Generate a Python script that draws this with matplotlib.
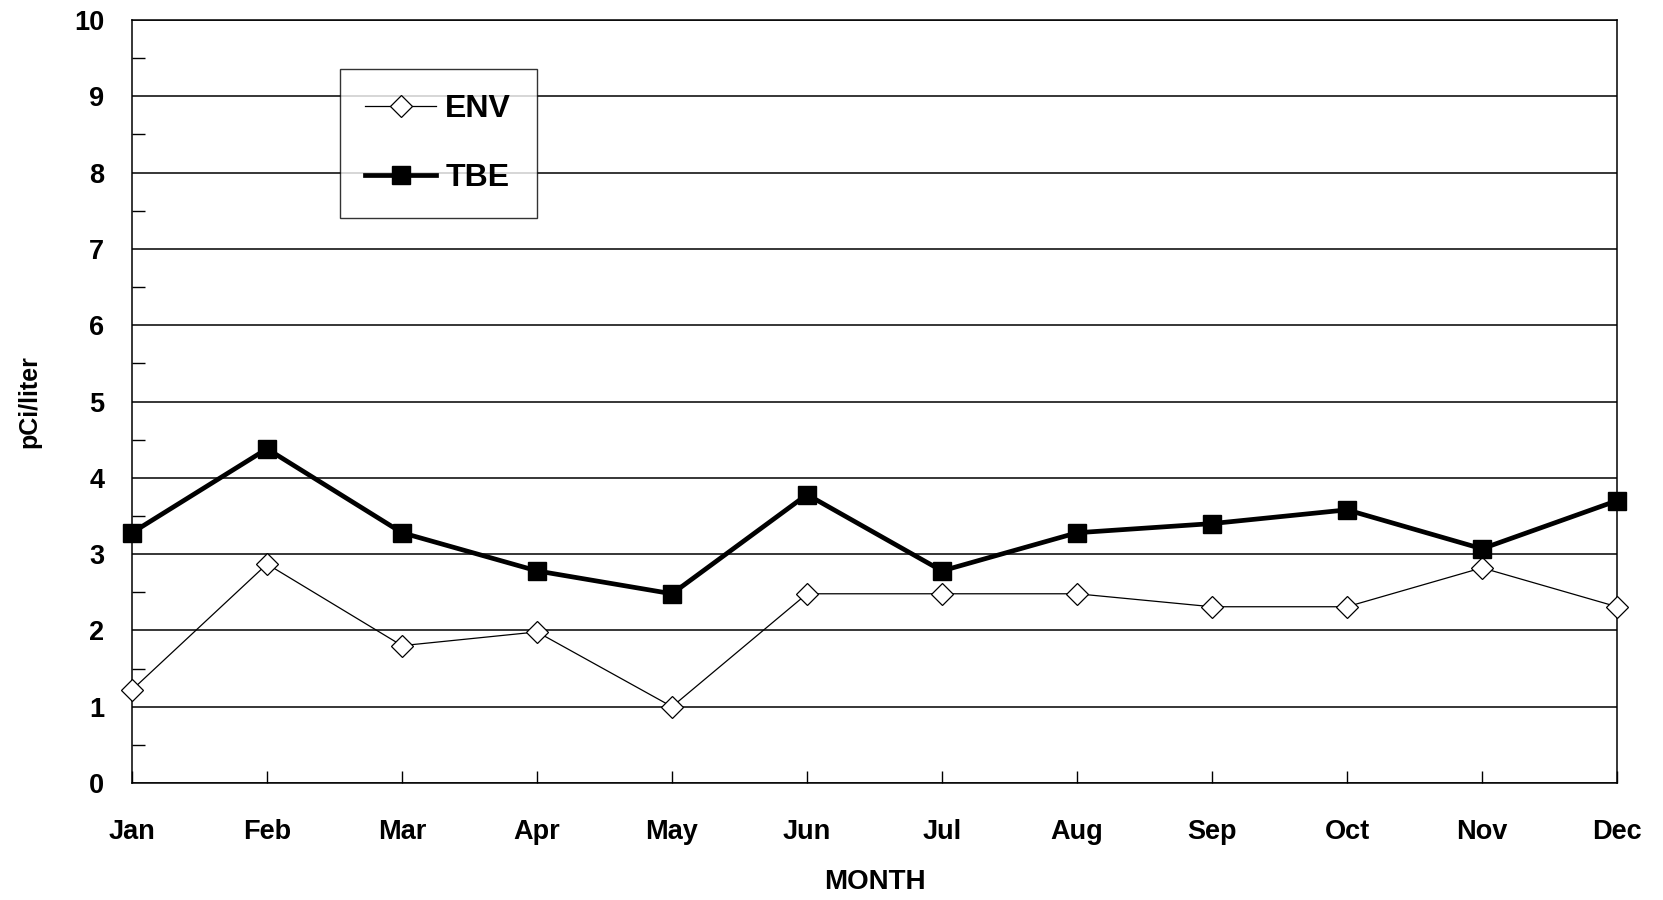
import matplotlib
matplotlib.use("Agg")
import matplotlib.pyplot as plt
from matplotlib.ticker import MultipleLocator

months = ["Jan", "Feb", "Mar", "Apr", "May", "Jun", "Jul", "Aug", "Sep", "Oct", "Nov", "Dec"]
env = [1.22, 2.87, 1.8, 1.98, 1.0, 2.48, 2.48, 2.48, 2.31, 2.31, 2.82, 2.31]
tbe = [3.28, 4.38, 3.28, 2.78, 2.48, 3.78, 2.78, 3.28, 3.4, 3.58, 3.07, 3.7]
yticks = list(range(0, 11))

plt.rcParams['font.family'] = ['Liberation Sans', 'DejaVu Sans']

fig = plt.figure(figsize=(16.63, 9.0), dpi=100)
L, R, T, B = 132, 1617, 20, 783
ax = fig.add_axes([L / 1663, 1 - B / 900, (R - L) / 1663, (B - T) / 900])

x = list(range(len(months)))
ax.plot(x, env, color='black', lw=0.9, marker='D', markersize=11.5,
        markerfacecolor='white', markeredgecolor='black', markeredgewidth=0.9,
        label='ENV', clip_on=False, zorder=3)
ax.plot(x, tbe, color='black', lw=3.4, marker='s', markersize=13,
        markerfacecolor='black', markeredgecolor='black',
        label='TBE', clip_on=False, zorder=4)

ax.set_xlim(0, 11)
ax.set_ylim(0, 10)
ax.set_yticks(yticks)
ax.yaxis.set_minor_locator(MultipleLocator(0.5))
ax.set_xticks(x)
ax.set_xticklabels(months, fontsize=19.5, fontweight='bold')
ax.set_yticklabels([str(v) for v in yticks], fontsize=19.5, fontweight='bold')
ax.tick_params(axis='x', direction='in', length=9, width=1, pad=26)
ax.tick_params(axis='y', which='major', direction='in', length=0, pad=20)
ax.tick_params(axis='y', which='minor', direction='in', length=9, width=1)
ax.grid(axis='y', which='major', color='black', lw=1.1)
for s in ax.spines.values():
    s.set_color('black')
    s.set_linewidth(1.1)

ax.set_ylabel('pCi/liter', fontsize=18, fontweight='bold')
ax.yaxis.label.set_va('center')
ax.yaxis.set_label_coords(-(132 - 29) / (R - L), 0.5)
ax.set_xlabel('MONTH', fontsize=20, fontweight='bold')
ax.xaxis.label.set_va('center')
ax.xaxis.set_label_coords(0.5, -(882 - B) / (B - T))

leg = ax.legend(loc='upper left', bbox_to_anchor=(0.140, 0.936),
                prop={'weight': 'bold', 'size': 23}, frameon=True, fancybox=False,
                edgecolor='black', borderpad=0.8, labelspacing=1.2,
                handlelength=2.2, handletextpad=0.3, borderaxespad=0)
leg.get_frame().set_linewidth(1.0)

fig.savefig('out.png', dpi=100)
